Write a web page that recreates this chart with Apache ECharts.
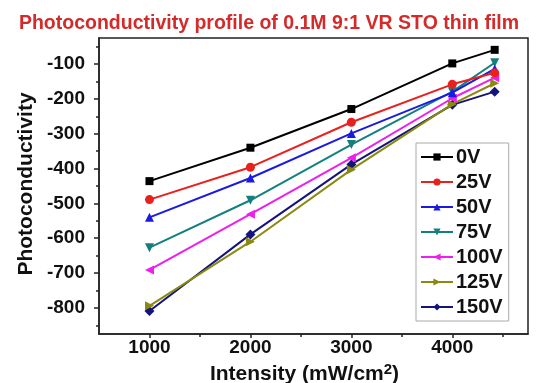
<!DOCTYPE html>
<html>
<head>
<meta charset="utf-8">
<script src="https://cdn.jsdelivr.net/npm/echarts@6/dist/echarts.min.js"></script>
<style>
  html, body { margin: 0; padding: 0; background: #fff; }
  #chart { width: 542px; height: 383px; }
</style>
</head>
<body>
<div id="chart"></div>
<script>
// Light intensity (mW/cm^2) at each measurement
const intensity = [1000, 2000, 3000, 4000, 4420];

// Bias voltages, one curve each
const biasNames = ['0V', '25V', '50V', '75V', '100V', '125V', '150V'];

// Photoconductivity at each intensity, per bias
const pc0V   = [-436, -340, -229, -98, -59];
const pc25V  = [-489, -396, -267, -158, -125];
const pc50V  = [-540, -427, -299, -182, -114];
const pc75V  = [-627, -491, -331, -179, -96];
const pc100V = [-691, -531, -369, -198, -139];
const pc125V = [-794, -610, -403, -215, -155];
const pc150V = [-809, -589, -388, -217, -179];

// Tick positions
const xMajorTicks = [1000, 2000, 3000, 4000];
const xMinorTicks = [1500, 2500, 3500, 4500];
const yMajorTicks = [-800, -700, -600, -500, -400, -300, -200, -100];
const yMinorTicks = [-850, -750, -650, -550, -450, -350, -250, -150, -50];

const seriesValues = [pc0V, pc25V, pc50V, pc75V, pc100V, pc125V, pc150V];
const colors = ['#000000', '#e8201e', '#1a1ae0', '#14807e', '#ee1eee', '#8a8a10', '#14147a'];
const symbols = ['rect', 'circle', 'triangle', 'triangle', 'triangle', 'triangle', 'diamond'];
const rotations = [0, 0, 0, 180, 90, -90, 0];
const symbolSizes = [8, 9, 9, 9, 9, 9, 10];

const X_MIN = 500, X_MAX = 4750;
const Y_MIN = -875, Y_MAX = -25;
const FONT = 'Liberation Sans, Arial, sans-serif';

const chart = echarts.init(document.getElementById('chart'), null, { renderer: 'canvas' });

const series = biasNames.map((name, i) => ({
  name: name,
  type: 'line',
  xAxisIndex: 0,
  yAxisIndex: 0,
  data: intensity.map((x, k) => [x, seriesValues[i][k]]),
  symbol: symbols[i],
  symbolSize: symbolSizes[i],
  symbolRotate: rotations[i],
  showAllSymbol: true,
  lineStyle: { color: colors[i], width: 2 },
  itemStyle: { color: colors[i] },
  z: 10 - i
}));

const option = {
  animation: false,
  backgroundColor: '#ffffff',
  title: {
    text: 'Photoconductivity profile of 0.1M 9:1 VR STO thin film',
    left: 264,
    textAlign: 'center',
    top: 9,
    textStyle: { color: '#d42a2a', fontFamily: FONT, fontWeight: 'bold', fontSize: 19.5 }
  },
  grid: {
    left: 99, right: 14, top: 38, bottom: 49,
    outerBoundsMode: 'none',
    containLabel: false,
    show: true,
    borderColor: '#222',
    borderWidth: 1.5,
    backgroundColor: 'transparent'
  },
  legend: {
    orient: 'vertical',
    left: 416,
    top: 143,
    data: biasNames,
    itemWidth: 32,
    itemHeight: 9,
    itemGap: 5,
    padding: [4, 6, 4, 4],
    borderColor: '#aaaaaa',
    borderWidth: 1,
    backgroundColor: '#ffffff',
    textStyle: { color: '#111', fontFamily: FONT, fontWeight: 'bold', fontSize: 20, padding: [0, 0, 0, -2] }
  },
  xAxis: [
    {
      type: 'value',
      min: X_MIN, max: X_MAX,
      position: 'bottom',
      name: 'Intensity (mW/cm{sup|2})',
      nameLocation: 'middle',
      nameGap: 22,
      nameTextStyle: {
        color: '#111', fontFamily: FONT, fontWeight: 'bold', fontSize: 21,
        padding: [0, 18, 0, 0],
        rich: { sup: { fontFamily: FONT, fontWeight: 'bold', fontSize: 15, verticalAlign: 'top', padding: [0, 0, 9, 0], color: '#111' } }
      },
      axisLine: { show: true, lineStyle: { color: '#222', width: 1.5 } },
      axisTick: { show: true, length: 4, lineStyle: { color: '#222', width: 1.5 }, customValues: xMajorTicks },
      axisLabel: {
        customValues: xMajorTicks, margin: 4, color: '#111',
        fontFamily: FONT, fontWeight: 'bold', fontSize: 19,
        formatter: v => String(v)
      },
      splitLine: { show: false }
    },
    {
      type: 'value',
      min: X_MIN, max: X_MAX,
      position: 'bottom',
      axisLine: { show: false },
      axisTick: { show: true, length: 3, lineStyle: { color: '#222', width: 1.5 }, customValues: xMinorTicks },
      axisLabel: { show: false },
      splitLine: { show: false }
    }
  ],
  yAxis: [
    {
      type: 'value',
      min: Y_MIN, max: Y_MAX,
      position: 'left',
      axisLine: { show: true, lineStyle: { color: '#222', width: 1.5 } },
      axisTick: { show: true, length: 5, lineStyle: { color: '#222', width: 1.5 }, customValues: yMajorTicks },
      axisLabel: {
        customValues: yMajorTicks, margin: 14, color: '#111',
        fontFamily: FONT, fontWeight: 'bold', fontSize: 19,
        formatter: v => String(v)
      },
      splitLine: { show: false }
    },
    {
      type: 'value',
      min: Y_MIN, max: Y_MAX,
      position: 'left',
      axisLine: { show: false },
      axisTick: { show: true, length: 3, lineStyle: { color: '#222', width: 1.5 }, customValues: yMinorTicks },
      axisLabel: { show: false },
      splitLine: { show: false }
    }
  ],
  graphic: [
    {
      type: 'text',
      x: 26,
      y: 184,
      rotation: Math.PI / 2,
      style: {
        text: 'Photoconductivity',
        fill: '#111',
        font: 'bold 21px ' + FONT,
        align: 'center',
        verticalAlign: 'middle'
      }
    }
  ],
  series: series
};

chart.setOption(option);
</script>
</body>
</html>
